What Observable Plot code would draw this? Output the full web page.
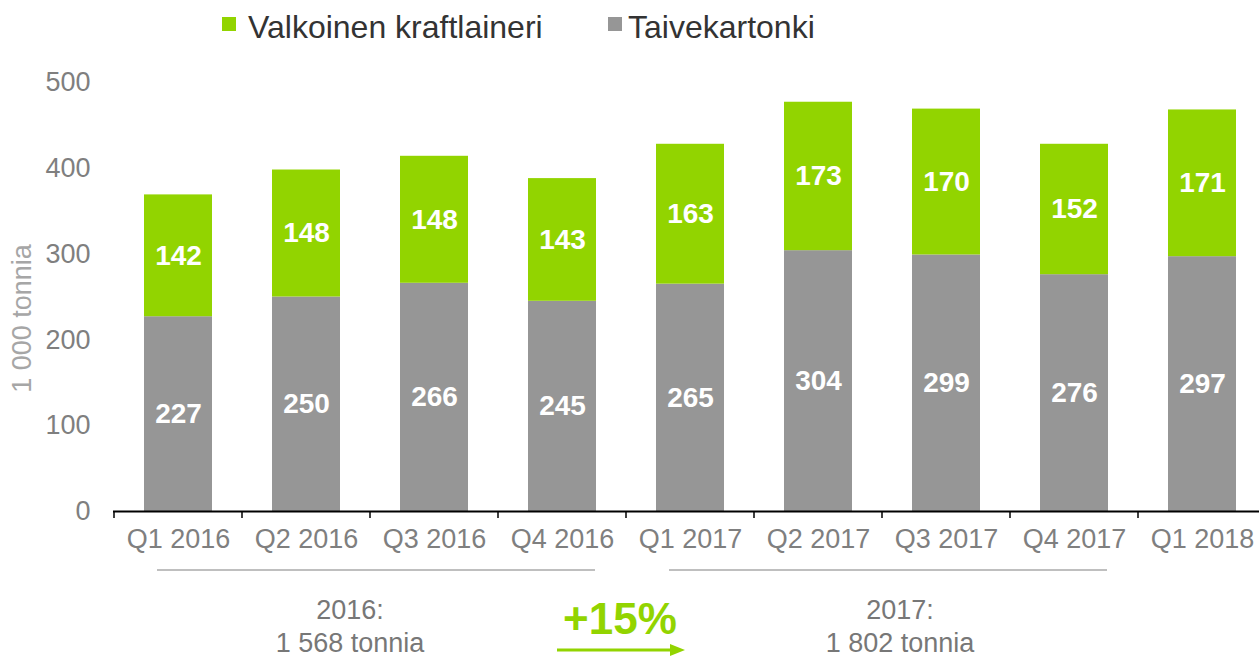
<!DOCTYPE html>
<html>
<head>
<meta charset="utf-8">
<script src="https://cdn.jsdelivr.net/npm/d3@7"></script>
<script src="https://cdn.jsdelivr.net/npm/@observablehq/plot@0.6"></script>
<style>
  html, body { margin: 0; padding: 0; background: #fff; }
  body { font-family: "Liberation Sans", Arial, sans-serif; width: 1259px; height: 656px; overflow: hidden; }
  #legend { position: relative; height: 50px; width: 1259px; }
  #legend .sw { position: absolute; width: 14px; height: 14px; top: 17px; }
  #legend .lb { position: absolute; top: 11px; font-size: 32px; line-height: 1; color: #333; white-space: nowrap; }
</style>
</head>
<body>
<div id="legend"></div>
<div id="chart"></div>
<script>
const quarters = ["Q1 2016", "Q2 2016", "Q3 2016", "Q4 2016", "Q1 2017", "Q2 2017", "Q3 2017", "Q4 2017", "Q1 2018"];
const taivekartonki = [227, 250, 266, 245, 265, 304, 299, 276, 297];
const valkoinen = [142, 148, 148, 143, 163, 173, 170, 152, 171];
const series = ["Taivekartonki", "Valkoinen kraftlaineri"];
const seriesColors = ["#969696", "#92d400"];
const legendOrder = ["Valkoinen kraftlaineri", "Taivekartonki"];
const yTicks = [0, 100, 200, 300, 400, 500];
const yTitle = "1 000 tonnia";
const years = [
  { year: "2016:", total: "1 568 tonnia", from: "Q1 2016", to: "Q4 2016" },
  { year: "2017:", total: "1 802 tonnia", from: "Q1 2017", to: "Q4 2017" }
];
const growth = "+15%";

const data = quarters.flatMap((q, i) => [
  { q, s: series[0], v: taivekartonki[i] },
  { q, s: series[1], v: valkoinen[i] }
]);

// legend
const legend = document.getElementById("legend");
const legendPos = [{ sw: 222, lb: 248 }, { sw: 608, lb: 628 }];
legendOrder.forEach((name, i) => {
  const sw = document.createElement("div");
  sw.className = "sw";
  sw.style.left = legendPos[i].sw + "px";
  sw.style.background = seriesColors[series.indexOf(name)];
  const lb = document.createElement("div");
  lb.className = "lb";
  lb.style.left = legendPos[i].lb + "px";
  lb.textContent = name;
  legend.appendChild(sw);
  legend.appendChild(lb);
});

const W = 1259, H = 606, mT = 32, mB = 145, mL = 113;
const plot = Plot.plot({
  width: W, height: H,
  marginTop: mT, marginBottom: mB, marginLeft: mL, marginRight: 0,
  style: { fontFamily: "'Liberation Sans', Arial, sans-serif", background: "#fff", overflow: "visible" },
  x: { domain: quarters, range: [mL, 1267], paddingInner: 0.47, paddingOuter: 0.235, align: 0.5 },
  y: { domain: [0, 500] },
  color: { domain: series, range: seriesColors },
  marks: [
    Plot.barY(data, { x: "q", y: "v", fill: "s" }),
    Plot.text(data, Plot.stackY({ x: "q", y: "v", z: "s", text: "v", fill: "white", fontSize: 28, fontWeight: "bold" })),
    Plot.axisY({ ticks: yTicks, tickSize: 0, tickPadding: 23, fontSize: 27, fill: "#7f7f7f", label: null }),
    Plot.axisX({ tickSize: 0, tickPadding: 17, fontSize: 27, fill: "#7f7f7f", label: null }),
    Plot.ruleY([0], { stroke: "black", strokeWidth: 2 })
  ]
});
document.getElementById("chart").appendChild(plot);

const svg = d3.select(plot);
const xs = plot.scale("x");
const ys = plot.scale("y");
const bw = xs.bandwidth, step = xs.step;
const gap = (step - bw) / 2;
const y0 = ys.apply(0);

// band-boundary ticks
const bounds = quarters.map(q => xs.apply(q) - gap);
bounds.push(xs.apply(quarters[quarters.length - 1]) + bw + gap);
svg.append("g").selectAll("line").data(bounds).join("line")
  .attr("x1", d => d).attr("x2", d => d)
  .attr("y1", y0).attr("y2", y0 + 7)
  .attr("stroke", "black").attr("stroke-width", 1.5);

// y title
svg.append("text")
  .attr("transform", `translate(22, ${(ys.apply(0) + ys.apply(500)) / 2 + 22}) rotate(-90)`)
  .attr("text-anchor", "middle").attr("dominant-baseline", "central")
  .attr("font-size", 27).attr("fill", "#a6a6a6")
  .text(yTitle);

// year brackets
const textShift = [-26, 12];
years.forEach((yr, i) => {
  const xa = xs.apply(yr.from) + 13;
  const xb = xs.apply(yr.to) + bw - 1;
  svg.append("line").attr("x1", xa).attr("x2", xb).attr("y1", y0 + 59).attr("y2", y0 + 59)
    .attr("stroke", "#bfbfbf").attr("stroke-width", 2);
  const mid = (xa + xb) / 2 + textShift[i];
  svg.append("text").attr("x", mid).attr("y", y0 + 108).attr("text-anchor", "middle")
    .attr("font-size", 27).attr("fill", "#777").text(yr.year);
  svg.append("text").attr("x", mid).attr("y", y0 + 141).attr("text-anchor", "middle")
    .attr("font-size", 27).attr("fill", "#777").text(yr.total);
});

// growth arrow
const bx = xs.apply("Q1 2017") - gap;
svg.append("text").attr("x", bx - 6).attr("y", y0 + 123).attr("text-anchor", "middle")
  .attr("font-size", 44).attr("font-weight", "bold").attr("fill", "#92d400").text(growth);
const ax1 = bx - step / 2 - 5, ax2 = bx + step / 2 - 5, ay = y0 + 139;
svg.append("line").attr("x1", ax1).attr("x2", ax2 - 12).attr("y1", ay).attr("y2", ay)
  .attr("stroke", "#92d400").attr("stroke-width", 3);
svg.append("path").attr("d", `M${ax2},${ay} L${ax2 - 15},${ay - 6} L${ax2 - 15},${ay + 6} Z`)
  .attr("fill", "#92d400");
</script>
</body>
</html>
